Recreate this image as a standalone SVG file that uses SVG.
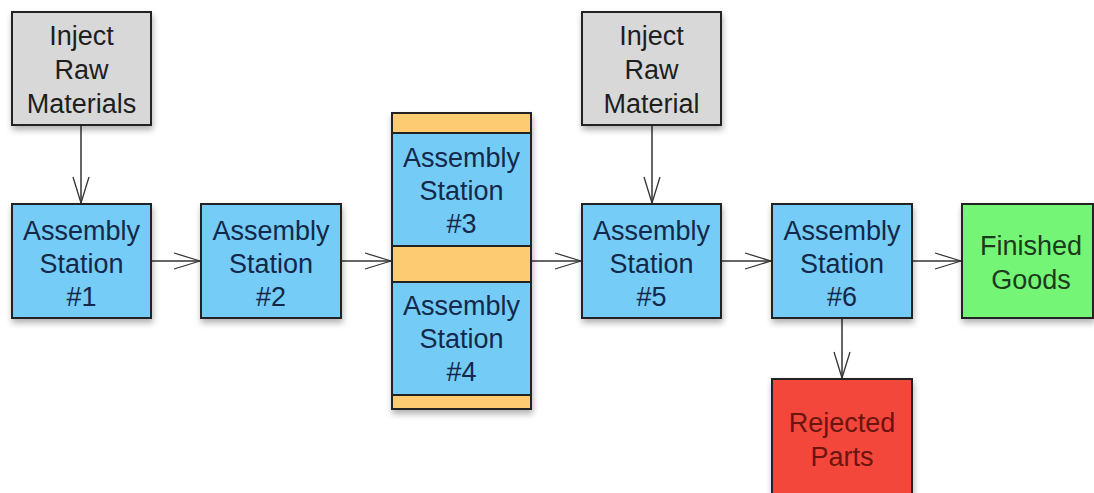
<svg xmlns="http://www.w3.org/2000/svg" width="1094" height="493" viewBox="0 0 1094 493">
<defs>
<filter id="sh" x="-10%" y="-10%" width="125%" height="130%">
<feDropShadow dx="1" dy="4" stdDeviation="3" flood-color="#000" flood-opacity="0.3"/>
</filter>
<marker id="v" viewBox="0 0 28 20" refX="27" refY="10" markerWidth="28" markerHeight="20" markerUnits="userSpaceOnUse" orient="auto">
<path d="M1,2 L27,10 L1,18" fill="none" stroke="#333" stroke-width="1.3"/>
</marker>
</defs>
<style>
.b{stroke:#222;stroke-width:2}
.gray{fill:#d8d8d8}
.blue{fill:#74ccf6}
.org{fill:#fccb72}
.grn{fill:#74f574}
.red{fill:#f3473a}
text{font-family:"Liberation Sans",Arial,sans-serif;font-size:27px;text-anchor:middle}
.tg{fill:#1e1e1e}
.tb{fill:#13284a}
.tgr{fill:#1d3a1d}
.tr{fill:#6a1510}
.c{stroke:#333;stroke-width:1.5;fill:none;marker-end:url(#v)}
</style>
<rect width="1094" height="493" fill="#fff"/>
<g id="connectors">
<line class="c" x1="81" y1="126" x2="81" y2="203"/>
<line class="c" x1="652" y1="126" x2="652" y2="203"/>
<line class="c" x1="152" y1="261" x2="200" y2="261"/>
<line class="c" x1="342" y1="261" x2="391" y2="261"/>
<line class="c" x1="532" y1="261" x2="581" y2="261"/>
<line class="c" x1="722" y1="261" x2="771" y2="261"/>
<line class="c" x1="913" y1="261" x2="961" y2="261"/>
<line class="c" x1="842" y1="318" x2="842" y2="378"/>
</g>
<g id="inject1">
<rect class="b gray" x="12" y="12" width="139" height="113" filter="url(#sh)"/>
<text class="tg" x="81.5" y="45">Inject</text>
<text class="tg" x="81.5" y="79">Raw</text>
<text class="tg" x="81.5" y="113">Materials</text>
</g>
<g id="inject2">
<rect class="b gray" x="582" y="12" width="139" height="113" filter="url(#sh)"/>
<text class="tg" x="651.5" y="45">Inject</text>
<text class="tg" x="651.5" y="79">Raw</text>
<text class="tg" x="651.5" y="113">Material</text>
</g>
<g id="station1">
<rect class="b blue" x="12" y="204" width="139" height="114" filter="url(#sh)"/>
<text class="tb" x="81.5" y="240">Assembly</text>
<text class="tb" x="81.5" y="273">Station</text>
<text class="tb" x="81.5" y="306">#1</text>
</g>
<g id="station2">
<rect class="b blue" x="201" y="204" width="140" height="114" filter="url(#sh)"/>
<text class="tb" x="271" y="240">Assembly</text>
<text class="tb" x="271" y="273">Station</text>
<text class="tb" x="271" y="306">#2</text>
</g>
<g id="station34">
<rect class="b org" x="392" y="113" width="139" height="296" filter="url(#sh)"/>
<rect class="b blue" x="392" y="133" width="139" height="113"/>
<rect class="b blue" x="392" y="282" width="139" height="113"/>
<text class="tb" x="461.5" y="167">Assembly</text>
<text class="tb" x="461.5" y="200">Station</text>
<text class="tb" x="461.5" y="233">#3</text>
<text class="tb" x="461.5" y="315">Assembly</text>
<text class="tb" x="461.5" y="348">Station</text>
<text class="tb" x="461.5" y="381">#4</text>
</g>
<g id="station5">
<rect class="b blue" x="582" y="204" width="139" height="114" filter="url(#sh)"/>
<text class="tb" x="651.5" y="240">Assembly</text>
<text class="tb" x="651.5" y="273">Station</text>
<text class="tb" x="651.5" y="306">#5</text>
</g>
<g id="station6">
<rect class="b blue" x="772" y="204" width="140" height="114" filter="url(#sh)"/>
<text class="tb" x="842" y="240">Assembly</text>
<text class="tb" x="842" y="273">Station</text>
<text class="tb" x="842" y="306">#6</text>
</g>
<g id="finished">
<rect class="b grn" x="962" y="204" width="131" height="114" filter="url(#sh)"/>
<text class="tgr" x="1031" y="255">Finished</text>
<text class="tgr" x="1031" y="289">Goods</text>
</g>
<g id="rejected">
<rect class="b red" x="772" y="379" width="140" height="120" filter="url(#sh)"/>
<text class="tr" x="842" y="432">Rejected</text>
<text class="tr" x="842" y="466">Parts</text>
</g>
</svg>
